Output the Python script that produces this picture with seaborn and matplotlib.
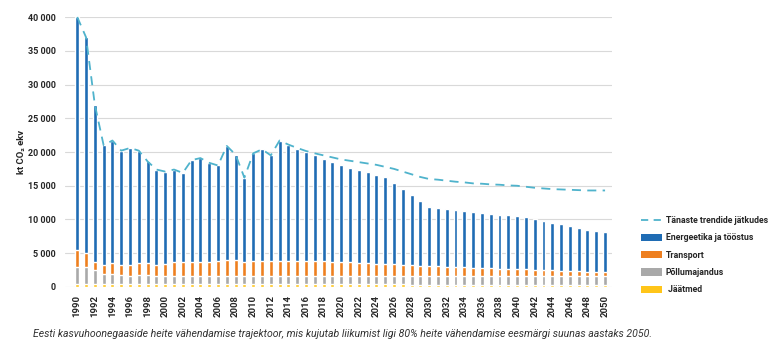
import numpy as np
import matplotlib
matplotlib.use("Agg")
import matplotlib.pyplot as plt
import seaborn as sns
from matplotlib.patches import Patch
from matplotlib.lines import Line2D
from matplotlib.ticker import FuncFormatter

years = list(range(1990, 2051))

# kt CO2 ekv per sector
energy = [34500, 31900, 23300, 17700, 18200, 16900, 17300, 16700, 15000, 14100,
          13700, 13700, 13200, 15100, 15400, 14700, 14100, 16900, 15600, 12500,
          15900, 16500, 15600, 17800, 17200, 16700, 16200, 15700, 15200, 14750,
          14300, 13950, 13700, 13500, 13150, 12900, 12050, 11200, 10400, 9550,
          8700, 8650, 8500, 8450, 8300, 8250, 8200, 8050, 8000, 7900,
          7850, 7700, 7450, 7300, 7050, 6900, 6650, 6500, 6250, 6100,
          5900]
transport = [2500, 2200, 1200, 1400, 1600, 1550, 1600, 1750, 1800, 1650,
             1750, 2000, 2050, 2050, 2050, 2000, 2250, 2350, 2300, 2100,
             2250, 2250, 2250, 2200, 2200, 2100, 2100, 2100, 2100, 2050,
             2000, 1950, 1900, 1800, 1750, 1700, 1650, 1600, 1500, 1450,
             1450, 1400, 1350, 1300, 1250, 1200, 1150, 1100, 1100, 1100,
             1050, 1000, 950, 900, 850, 800, 750, 700, 650, 600,
             600]
agri = [2550, 2450, 2050, 1450, 1450, 1300, 1250, 1300, 1350, 1200,
        1150, 1200, 1150, 1150, 1150, 1200, 1150, 1150, 1200, 1150,
        1200, 1200, 1200, 1250, 1250, 1250, 1250, 1250, 1250, 1300,
        1300, 1300, 1300, 1300, 1300, 1300, 1300, 1300, 1350, 1350,
        1300, 1300, 1300, 1300, 1300, 1300, 1350, 1350, 1300, 1300,
        1300, 1300, 1300, 1300, 1300, 1300, 1300, 1300, 1300, 1300,
        1300]
waste = [450, 450, 450, 450, 450, 450, 450, 450, 450, 450,
         500, 500, 500, 500, 500, 500, 500, 500, 500, 450,
         450, 450, 450, 450, 450, 450, 450, 450, 450, 400,
         400, 400, 400, 400, 400, 400, 400, 400, 350, 350,
         350, 350, 350, 350, 350, 350, 300, 300, 300, 300,
         300, 300, 300, 300, 300, 300, 300, 300, 300, 300,
         300]
trend = [40000, 37000, 27000, 21000, 21700, 20200, 20600, 20200, 18600, 17400,
         17100, 17400, 16900, 18800, 19100, 18400, 18000, 20900, 19600, 16200,
         19800, 20400, 19500, 21700, 21100, 20600, 20150, 19800, 19500, 19200,
         18900, 18700, 18500, 18300, 18100, 17800, 17500, 17100, 16700, 16300,
         16000, 15900, 15750, 15600, 15500, 15350, 15300, 15200, 15150, 15050,
         15000, 14850, 14700, 14600, 14500, 14450, 14400, 14350, 14300, 14300,
         14300]

labels = ["Energeetika ja tööstus", "Transport", "Põllumajandus", " Jäätmed"]
colors = ["#1f6cb4", "#ee7f1f", "#a9a9a9", "#ffc519"]
trend_color = "#4fb3cc"

sns.set_style("white")
plt.rcParams["font.family"] = ["Roboto", "DejaVu Sans"]

fig = plt.figure(figsize=(7.68, 3.59), dpi=100)
ax = fig.add_axes([0.085, 0.2006, 0.712, 0.752])

# stacked bars drawn as overlapping cumulative layers
tops = np.cumsum(np.array([waste, agri, transport, energy]), axis=0)[::-1]
for top, c in zip(tops, colors):
    sns.barplot(x=years, y=top, color=c, width=0.45, saturation=1, ax=ax, zorder=3)

sns.lineplot(x=np.arange(len(years)), y=trend, color=trend_color, lw=1.3,
             ax=ax, zorder=4, clip_on=False)
ax.lines[-1].set_dashes((5, 3.5))

ax.set_ylim(0, 40000)
ax.set_xlim(-1.36, 60.8)
ax.set_yticks(range(0, 40001, 5000))
ax.yaxis.set_major_formatter(FuncFormatter(lambda v, p: f"{v:,.0f}".replace(",", " ")))
ax.set_xticks(range(0, len(years), 2))
ax.set_xticklabels([str(y) for y in years[::2]], rotation=90)
ax.tick_params(axis="x", length=0, labelsize=6.8, pad=6)
ax.tick_params(axis="y", length=0, labelsize=6.5, pad=7)
for t in ax.get_xticklabels() + ax.get_yticklabels():
    t.set_fontweight("bold")
ax.grid(axis="y", color="#d9d9d9", lw=0.8, zorder=0)
ax.set_axisbelow(True)
sns.despine(ax=ax, left=True, bottom=True)
ax.set_xlabel("")
ax.set_ylabel("kt CO₂ ekv", fontsize=6.8, fontweight="bold")
ax.yaxis.set_label_coords(-0.072, 0.5)

handles = [Line2D([0], [0], color=trend_color, lw=1.3, dashes=(4, 3))]
handles += [Patch(facecolor=c, edgecolor="none") for c in colors]
fig.legend(handles, ["Tänaste trendide jätkudes"] + labels, loc="upper left",
           bbox_to_anchor=(0.825, 0.42), frameon=False, handlelength=2.3,
           handleheight=0.9, labelspacing=0.95, handletextpad=0.5,
           prop={"size": 6.3, "weight": "bold"})

fig.text(0.043, 0.062, "Eesti kasvuhoonegaaside heite vähendamise trajektoor, mis kujutab liikumist "
         "ligi 80% heite vähendamise eesmärgi suunas aastaks 2050.",
         fontsize=7.6, style="italic", color="#333333")

fig.savefig("out.png", dpi=100)
